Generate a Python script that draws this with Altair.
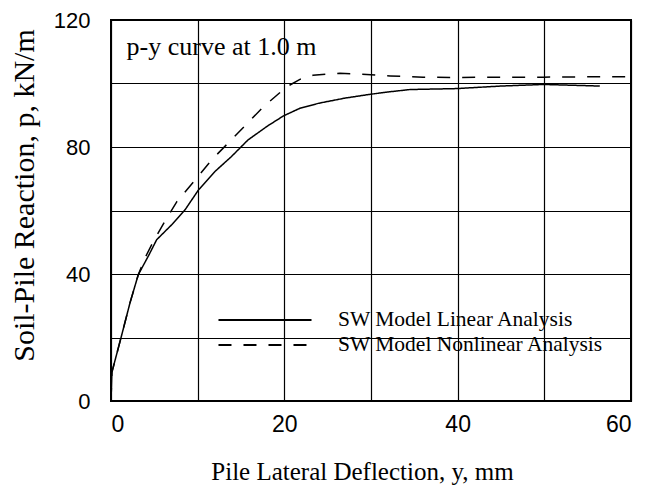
import altair as alt
import pandas as pd

# Linear analysis curve (solid)
lin_x = [0, 0.1, 1.2, 2.2, 3.15, 4.3, 5.27, 7.0, 8.54, 10.1, 12.0, 13.9, 15.8, 18.0, 19.9,
         21.8, 24.0, 27.0, 29.9, 32.2, 34.5, 39.9, 45.0, 49.9, 56.4]
lin_y = [0, 9, 20.4, 31, 39.8, 45.6, 50.8, 55.5, 60.2, 66.5, 72.3, 77.0, 82.2, 86.5, 89.8,
         92.2, 93.8, 95.4, 96.6, 97.4, 98.1, 98.4, 99.2, 99.7, 99.2]

# Nonlinear analysis curve (dashed)
non_x = [0, 0.1, 1.2, 2.2, 3.15, 4.0, 4.9, 6.2, 7.6, 9.7, 11.6, 13.5, 15.5, 17.6, 19.0,
         20.3, 21.8, 23.3, 26.4, 29.0, 32.2, 36.0, 39.9, 45.0, 49.9, 55.0, 60.0]
non_y = [0, 9, 20.4, 31, 39.8, 45.5, 50.3, 56.5, 62.8, 69.6, 75.9, 81.2, 86.8, 92.7, 96.0,
         99.0, 101.3, 102.6, 103.2, 102.9, 102.4, 102.0, 101.9, 102.0, 102.0, 102.1, 102.1]

series_names = ["SW Model Linear Analysis", "SW Model Nonlinear Analysis"]

x_ticks = [0, 10, 20, 30, 40, 50, 60]
y_ticks = [0, 20, 40, 60, 80, 100, 120]

note_text = ["p-y curve at 1.0 m"]
note_x = [1.8]
note_y = [108.9]

df = pd.concat([
    pd.DataFrame({"x": lin_x, "y": lin_y, "series": series_names[0]}),
    pd.DataFrame({"x": non_x, "y": non_y, "series": series_names[1]}),
])
note_df = pd.DataFrame({"x": note_x, "y": note_y, "label": note_text})

serif = "Liberation Serif"
sans = "Liberation Sans"

lines = alt.Chart(df).mark_line(color="black", strokeWidth=1.5).encode(
    x=alt.X("x:Q",
            scale=alt.Scale(domain=[0, 60], nice=False, zero=False),
            axis=alt.Axis(values=x_ticks,
                          labelExpr="datum.value % 20 == 0 ? datum.label : ''",
                          title="Pile Lateral Deflection, y, mm",
                          titleFont=serif, titleFontSize=25, titleFontWeight="normal",
                          titleColor="black", titleBaseline="alphabetic",
                          titleX=251, titleY=78,
                          labelFont=sans, labelFontSize=23, labelColor="black",
                          labelPadding=12, ticks=False, domain=False,
                          grid=True, gridColor="black", gridWidth=1.2, gridOpacity=1)),
    y=alt.Y("y:Q",
            scale=alt.Scale(domain=[0, 120], nice=False),
            axis=alt.Axis(values=y_ticks,
                          labelExpr="datum.value % 40 == 0 ? datum.label : ''",
                          title="Soil-Pile Reaction, p, kN/m",
                          titleFont=serif, titleFontSize=30, titleFontWeight="normal",
                          titleColor="black", titleBaseline="alphabetic",
                          titleX=-78, titleY=175,
                          labelFont=sans, labelFontSize=22, labelColor="black",
                          labelPadding=21, ticks=False, domain=False,
                          grid=True, gridColor="black", gridWidth=1.2, gridOpacity=1)),
    strokeDash=alt.StrokeDash(
        "series:N",
        scale=alt.Scale(domain=series_names, range=[[1, 0], [13, 12]]),
        legend=alt.Legend(title=None, orient="none", legendX=141, legendY=287,
                          symbolType="M-4,0H4", symbolSize=541,
                          symbolStrokeWidth=2.2, symbolStrokeColor="black",
                          labelFont=serif, labelFontSize=21.5, labelColor="black",
                          labelLimit=0, labelOffset=60, rowPadding=1, padding=0)),
    detail="series:N",
)

note = alt.Chart(note_df).mark_text(
    font=serif, fontSize=26, color="black", align="left", baseline="alphabetic"
).encode(
    x="x:Q",
    y="y:Q",
    text="label:N",
)

chart = alt.layer(lines, note).properties(
    width=520, height=381,
    autosize=alt.AutoSizeParams(type="none"),
    padding={"left": 103, "top": 12, "right": 6, "bottom": 86},
).configure(
    background="white",
    view=alt.ViewConfig(stroke="black", strokeWidth=2),
)

chart.save("out.html", embed_options={"renderer": "svg", "actions": False})
